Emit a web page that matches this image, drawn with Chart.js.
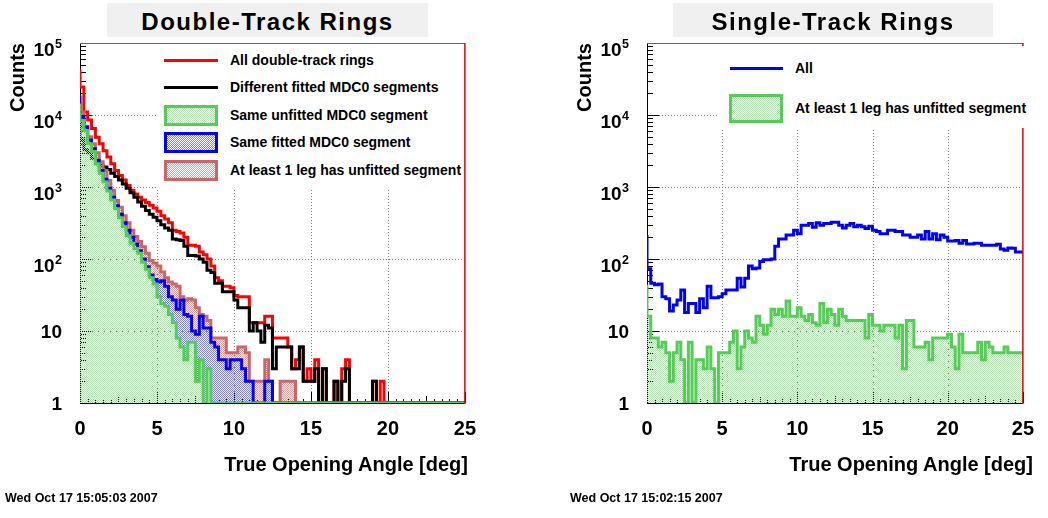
<!DOCTYPE html>
<html>
<head>
<meta charset="utf-8">
<script src="https://cdn.jsdelivr.net/npm/chart.js@4.4.0/dist/chart.umd.min.js"></script>
<style>
  body { margin: 0; background: #fff; width: 1048px; height: 518px; position: relative; overflow: hidden;
         font-family: "Liberation Sans", Arial, Helvetica, sans-serif; font-weight: bold; color: #000; }
  canvas { position: absolute; top: 0; }
  .title { position: absolute; top: 3px; height: 34px; line-height: 38px; overflow: hidden; background: #f0f0f0;
           font-size: 24px; letter-spacing: 1.5px; text-align: center; white-space: nowrap; z-index: 2; }
  .ytitle { position: absolute; top: 243px; width: 200px; line-height: 22px; font-size: 20px; text-align: right;
            transform-origin: 0 0; transform: rotate(-90deg); white-space: nowrap; }
  .xtitle { position: absolute; top: 452px; line-height: 24px; font-size: 20px; text-align: right; white-space: nowrap; }
  .date { position: absolute; top: 491px; font-size: 12.5px; white-space: nowrap; }
  .legend { position: absolute; background: #fff; z-index: 2; }
  .lg-line { position: absolute; height: 3px; }
  .lg-box { position: absolute; box-sizing: border-box; border: 3px solid; }
  .lg-text { position: absolute; font-size: 14px; line-height: 16px; white-space: nowrap; }
</style>
</head>
<body>
<canvas id="left" width="490" height="518" style="left:0"></canvas>
<canvas id="right" width="508" height="518" style="left:540px"></canvas>

<div class="title" style="left:107px;width:321px">Double-Track Rings</div>
<div class="title" style="left:673px;width:320px">Single-Track Rings</div>
<div class="ytitle" style="left:6px">Counts</div>
<div class="ytitle" style="left:573px">Counts</div>
<div class="xtitle" style="left:0;width:468px">True Opening Angle [deg]</div>
<div class="xtitle" style="left:560px;width:473px">True Opening Angle [deg]</div>
<div class="date" style="left:5px">Wed Oct 17 15:05:03 2007</div>
<div class="date" style="left:570px">Wed Oct 17 15:02:15 2007</div>
<div class="legend" id="legL" style="left:157px;top:46px;width:306px;height:144px"></div>
<div class="legend" id="legR" style="left:717px;top:46px;width:313px;height:82px"></div>

<script>
const FONT = '"Liberation Sans", Arial, Helvetica, sans-serif';

// histogram range: 100 bins from 0 to 25 deg
const xMin = 0;
const xMax = 25;
const xMinorStep = 0.5;

const xTicks = [0, 5, 10, 15, 20, 25];
const xTickLabels = ['0', '5', '10', '15', '20', '25'];
const yTicks = [1, 10, 100, 1000, 10000, 100000];
const yTickBase = ['1', '10', '10', '10', '10', '10'];
const yTickExp = ['', '', '2', '3', '4', '5'];

// Double-track rings
const doubleLabels = ['All double-track rings', 'Different fitted MDC0 segments', 'Same unfitted MDC0 segment',
                      'Same fitted MDC0 segment', 'At least 1 leg has unfitted segment'];
const allDouble = [
  43000, 24500, 11000, 8500, 6500, 4900, 4000, 3200, 2600, 2100,
  1700, 1450, 1250, 1050, 900, 800, 720, 660, 610, 560,
  510, 460, 400, 360, 320, 250, 240, 230, 200, 155,
  155, 150, 125, 115, 100, 80, 55, 50, 42, 42,
  40, 31, 30, 30, 30, 13, 13, 13, 13, 16,
  16, 8, 8, 8, 8, 6, 3, 4, 6, 2,
  3, 2, 4, 0, 3, 0, 0, 2, 0, 3,
  4, 0, 0, 0, 0, 0, 0, 2, 0, 2,
  0, 0, 0, 0, 0, 0, 0, 0, 0, 0,
  0, 0, 0, 0, 0, 0, 0, 0, 0, 0];
const diffFitted = [
  7600, 4500, 3300, 3000, 2500, 2100, 2000, 1900, 1750, 1550,
  1400, 1250, 1100, 960, 830, 720, 620, 540, 470, 420,
  380, 340, 300, 270, 250, 190, 185, 180, 150, 112,
  112, 110, 100, 90, 70, 65, 46, 46, 35, 35,
  35, 27, 21, 21, 21, 10, 13, 10, 7, 12,
  11, 3, 6, 6, 6, 6, 3, 3, 6, 2,
  2, 2, 3, 0, 3, 0, 0, 2, 0, 2,
  3, 0, 0, 0, 0, 0, 0, 2, 0, 0,
  0, 0, 0, 0, 0, 0, 0, 0, 0, 0,
  0, 0, 0, 0, 0, 0, 0, 0, 0, 0];
const sameUnfitted = [
  14500, 8400, 6100, 4000, 3100, 2100, 1550, 1170, 880, 660,
  500, 375, 280, 210, 165, 140, 120, 90, 72, 55,
  45, 30, 24, 22, 17, 13, 8, 6, 4, 7,
  7, 2, 4, 0, 3, 0, 0, 0, 0, 0,
  0, 0, 0, 0, 0, 0, 0, 0, 0, 0,
  0, 0, 0, 0, 0, 0, 0, 0, 0, 0,
  0, 0, 0, 0, 0, 0, 0, 0, 0, 0,
  0, 0, 0, 0, 0, 0, 0, 0, 0, 0,
  0, 0, 0, 0, 0, 0, 0, 0, 0, 0,
  0, 0, 0, 0, 0, 0, 0, 0, 0, 0];
const sameFitted = [
  18700, 9500, 6800, 4500, 3400, 2350, 1700, 1280, 960, 720,
  550, 420, 320, 250, 200, 160, 130, 100, 78, 60,
  52, 48, 50, 42, 30, 27, 20, 27, 17, 16,
  10, 9, 16, 11, 11, 7, 6, 4, 4, 3,
  4, 4, 4, 3, 2, 2, 0, 0, 0, 2,
  2, 0, 0, 0, 0, 0, 0, 0, 0, 0,
  0, 0, 0, 0, 0, 0, 0, 0, 0, 0,
  0, 0, 0, 0, 0, 0, 0, 0, 0, 0,
  0, 0, 0, 0, 0, 0, 0, 0, 0, 0,
  0, 0, 0, 0, 0, 0, 0, 0, 0, 0];
const oneLegUnfitted = [
  15000, 11000, 7000, 5000, 4000, 3000, 2240, 1700, 1230, 900,
  650, 525, 400, 320, 250, 205, 175, 148, 120, 95,
  88, 80, 66, 55, 48, 45, 42, 30, 27, 28,
  27, 21, 17, 16, 14, 8, 8, 8, 8, 5,
  5, 5, 6, 6, 5, 2, 2, 2, 2, 4,
  2, 0, 0, 2, 2, 2, 2, 0, 0, 0,
  0, 0, 0, 0, 0, 0, 0, 0, 0, 0,
  0, 0, 0, 0, 0, 0, 0, 0, 0, 0,
  0, 0, 0, 0, 0, 0, 0, 0, 0, 0,
  0, 0, 0, 0, 0, 0, 0, 0, 0, 0];

// Single-track rings
const singleLabels = ['All', 'At least 1 leg has unfitted segment'];
const allSingle = [
  215, 73, 46, 44, 45, 30, 28, 19, 23, 27,
  37, 18, 24, 24, 18, 28, 21, 42, 29, 29,
  30, 33, 37, 37, 37, 54, 41, 54, 80, 73,
  75, 92, 98, 98, 100, 150, 190, 190, 215, 215,
  250, 225, 295, 295, 310, 275, 318, 295, 310, 310,
  325, 325, 295, 270, 295, 310, 280, 295, 280, 265,
  285, 250, 240, 225, 225, 250, 250, 240, 240, 215,
  215, 200, 200, 215, 190, 240, 190, 225, 185, 215,
  200, 178, 178, 180, 165, 180, 162, 162, 165, 165,
  155, 155, 155, 155, 160, 138, 132, 142, 141, 125];
const singleUnfitted = [
  44, 16, 8, 8, 6, 7, 5, 2, 5, 7,
  4, 0, 7, 0, 4, 4, 3, 6, 3, 0,
  5, 5, 5, 7, 10, 3, 6, 10, 8, 7,
  16, 12, 9, 12, 20, 17, 20, 16, 26, 16,
  16, 21, 16, 14, 17, 13, 12, 24, 13, 20,
  17, 12, 20, 16, 14, 14, 14, 14, 14, 8,
  17, 12, 12, 10, 12, 12, 12, 8, 12, 3,
  14, 14, 6, 6, 6, 7, 4, 8, 8, 8,
  8, 9, 6, 3, 9, 5, 5, 5, 5, 7,
  4, 7, 6, 5, 5, 5, 6, 5, 5, 5];

const RED = '#ff0000', BLACK = '#000000', GREEN = '#55cc55', BLUE = '#0000ff', PINK = '#cc6666';
const GREEN_DOT = 'rgb(178,228,178)', BLUE_DOT = 'rgb(125,125,250)', PINK_DOT = 'rgb(228,155,155)';

// bin contents -> step points; empty bins sit on the axis floor like ROOT does
function toSteps(counts) {
  const w = (xMax - xMin) / counts.length;
  const floor = yTicks[0];
  const pts = counts.map((c, i) => ({ x: xMin + i * w, y: Math.max(c, floor) }));
  pts.push({ x: xMax, y: Math.max(counts[counts.length - 1], floor) });
  return pts;
}

function dots(ctx, color) {
  const tile = document.createElement('canvas');
  tile.width = 2; tile.height = 2;
  const g = tile.getContext('2d');
  g.fillStyle = color;
  g.fillRect(0, 0, 1, 1);
  g.fillRect(1, 1, 1, 1);
  return ctx.createPattern(tile, 'repeat');
}

function hist(label, counts, color, fillPattern) {
  return {
    label: label,
    data: toSteps(counts),
    borderColor: color,
    borderWidth: 3,
    stepped: 'after',
    pointRadius: 0,
    fill: fillPattern ? 'start' : false,
    backgroundColor: fillPattern || 'transparent'
  };
}

const rootAxes = {
  id: 'rootAxes',
  beforeDatasetsDraw(chart) {
    const { ctx, chartArea: a, scales: { x, y } } = chart;
    ctx.save();
    // dotted grid at the labelled ticks
    ctx.strokeStyle = '#808080';
    ctx.lineWidth = 1;
    ctx.setLineDash([1, 2]);
    ctx.beginPath();
    xTicks.slice(1, -1).forEach(v => {
      const px = Math.round(x.getPixelForValue(v)) + 0.5;
      ctx.moveTo(px, a.top);
      ctx.lineTo(px, a.bottom);
    });
    yTicks.slice(1, -1).forEach(v => {
      const py = Math.round(y.getPixelForValue(v)) + 0.5;
      ctx.moveTo(a.left, py);
      ctx.lineTo(a.right, py);
    });
    ctx.stroke();
    ctx.setLineDash([]);
    // inward ticks
    ctx.strokeStyle = '#000';
    ctx.beginPath();
    for (let d = 0; d < yTicks.length - 1; d++) {
      for (let m = 1; m <= 9; m++) {
        const py = Math.round(y.getPixelForValue(yTicks[d] * m)) + 0.5;
        ctx.moveTo(a.left, py);
        ctx.lineTo(a.left + (m === 1 ? 12 : 6), py);
      }
    }
    const nMinor = Math.round((xMax - xMin) / xMinorStep);
    for (let i = 0; i <= nMinor; i++) {
      const px = Math.round(x.getPixelForValue(xMin + i * xMinorStep)) + 0.5;
      const len = i % 10 === 0 ? 11 : (i % 5 === 0 ? 7 : 4);
      ctx.moveTo(px, a.bottom);
      ctx.lineTo(px, a.bottom - len);
    }
    ctx.stroke();
    ctx.beginPath();
    ctx.moveTo(a.left + 0.5, a.top);
    ctx.lineTo(a.left + 0.5, a.bottom + 0.5);
    ctx.lineTo(a.right, a.bottom + 0.5);
    ctx.stroke();
    ctx.restore();
  },
  afterDatasetsDraw(chart) {
    const { ctx, chartArea: a } = chart;
    ctx.save();
    ctx.lineWidth = 1;
    ctx.strokeStyle = '#666';
    ctx.beginPath();
    ctx.moveTo(a.left, a.top + 0.5);
    ctx.lineTo(a.right, a.top + 0.5);
    ctx.stroke();
    ctx.strokeStyle = '#e00000';
    ctx.lineWidth = 1.5;
    ctx.beginPath();
    ctx.moveTo(a.right, a.top);
    ctx.lineTo(a.right, a.bottom + 1);
    ctx.stroke();
    ctx.restore();
  },
  afterDraw(chart) {
    const { ctx, chartArea: a, scales: { y } } = chart;
    const R = a.left - 18;
    ctx.save();
    ctx.fillStyle = '#000';
    ctx.textAlign = 'right';
    ctx.textBaseline = 'alphabetic';
    yTicks.forEach((v, i) => {
      const py = y.getPixelForValue(v);
      if (yTickExp[i]) {
        ctx.font = 'bold 12.5px ' + FONT;
        const w = ctx.measureText(yTickExp[i]).width;
        ctx.fillText(yTickExp[i], R, py + 4.5);
        ctx.font = 'bold 19px ' + FONT;
        ctx.fillText(yTickBase[i], R - w - 0.5, py + 13.3);
      } else {
        ctx.font = 'bold 19px ' + FONT;
        ctx.fillText(yTickBase[i], R, py + 6.8);
      }
    });
    ctx.restore();
  }
};

function histOptions(yAxisWidth, rightPad) {
  return {
    responsive: false,
    animation: false,
    devicePixelRatio: 1,
    layout: { padding: { top: 43, right: rightPad, left: 0, bottom: 0 } },
    plugins: { legend: { display: false }, tooltip: { enabled: false } },
    scales: {
      x: {
        type: 'linear', min: xMin, max: xMax,
        afterBuildTicks: s => { s.ticks = xTicks.map(v => ({ value: v })); },
        ticks: {
          callback: v => xTickLabels[xTicks.indexOf(v)],
          color: '#000', font: { family: FONT, size: 20, weight: 'bold' },
          padding: 14, maxRotation: 0, autoSkip: false
        },
        grid: { display: false, drawTicks: false },
        border: { display: false },
        afterFit: s => { s.height = 115; }
      },
      y: {
        type: 'logarithmic', min: yTicks[0], max: yTicks[yTicks.length - 1],
        afterBuildTicks: s => { s.ticks = yTicks.map(v => ({ value: v })); },
        ticks: { display: false },
        grid: { display: false, drawTicks: false },
        border: { display: false },
        afterFit: s => { s.width = yAxisWidth; }
      }
    }
  };
}

const ctxL = document.getElementById('left').getContext('2d');
const ctxR = document.getElementById('right').getContext('2d');

// first dataset is drawn on top
new Chart(ctxL, {
  type: 'line',
  data: {
    datasets: [
      hist(doubleLabels[2], sameUnfitted, GREEN, dots(ctxL, GREEN_DOT)),
      hist(doubleLabels[3], sameFitted, BLUE, dots(ctxL, BLUE_DOT)),
      hist(doubleLabels[4], oneLegUnfitted, PINK, dots(ctxL, PINK_DOT)),
      hist(doubleLabels[1], diffFitted, BLACK, null),
      hist(doubleLabels[0], allDouble, RED, null)
    ]
  },
  options: histOptions(80, 22),
  plugins: [rootAxes]
});

new Chart(ctxR, {
  type: 'line',
  data: {
    datasets: [
      hist(singleLabels[0], allSingle, BLUE, null),
      hist(singleLabels[1], singleUnfitted, GREEN, dots(ctxR, GREEN_DOT))
    ]
  },
  options: histOptions(107, 15),
  plugins: [rootAxes]
});

// ROOT-style legends (page coordinates)
function checker(color) {
  return 'repeating-conic-gradient(' + color + ' 0% 25%, transparent 0% 50%) 0 0 / 2px 2px';
}
function addEntry(legend, kind, color, dotColor, text, sx, sw, cy, bh, tx) {
  const box = legend.getBoundingClientRect();
  const s = document.createElement('div');
  if (kind === 'line') {
    s.className = 'lg-line';
    s.style.cssText = 'left:' + (sx - box.left) + 'px;top:' + (cy - 1.5 - box.top) + 'px;width:' + sw + 'px;background:' + color;
  } else {
    s.className = 'lg-box';
    s.style.cssText = 'left:' + (sx - box.left) + 'px;top:' + (cy - bh / 2 - box.top) + 'px;width:' + sw + 'px;height:' + bh +
      'px;border-color:' + color + ';background:' + checker(dotColor);
  }
  legend.appendChild(s);
  const t = document.createElement('div');
  t.className = 'lg-text';
  t.textContent = text;
  t.style.left = (tx - box.left) + 'px';
  t.style.top = (cy - 8 - box.top) + 'px';
  legend.appendChild(t);
}

const legL = document.getElementById('legL');
addEntry(legL, 'line', RED, null, doubleLabels[0], 164, 54, 60, 0, 230);
addEntry(legL, 'line', BLACK, null, doubleLabels[1], 164, 54, 87, 0, 230);
addEntry(legL, 'box', GREEN, GREEN_DOT, doubleLabels[2], 164, 54, 115, 21, 230);
addEntry(legL, 'box', BLUE, BLUE_DOT, doubleLabels[3], 164, 54, 142, 21, 230);
addEntry(legL, 'box', PINK, PINK_DOT, doubleLabels[4], 164, 54, 170, 21, 230);

const legR = document.getElementById('legR');
addEntry(legR, 'line', BLUE, null, singleLabels[0], 730, 53, 68, 0, 795);
addEntry(legR, 'box', GREEN, GREEN_DOT, singleLabels[1], 729, 54, 108, 29, 795);
</script>
</body>
</html>
